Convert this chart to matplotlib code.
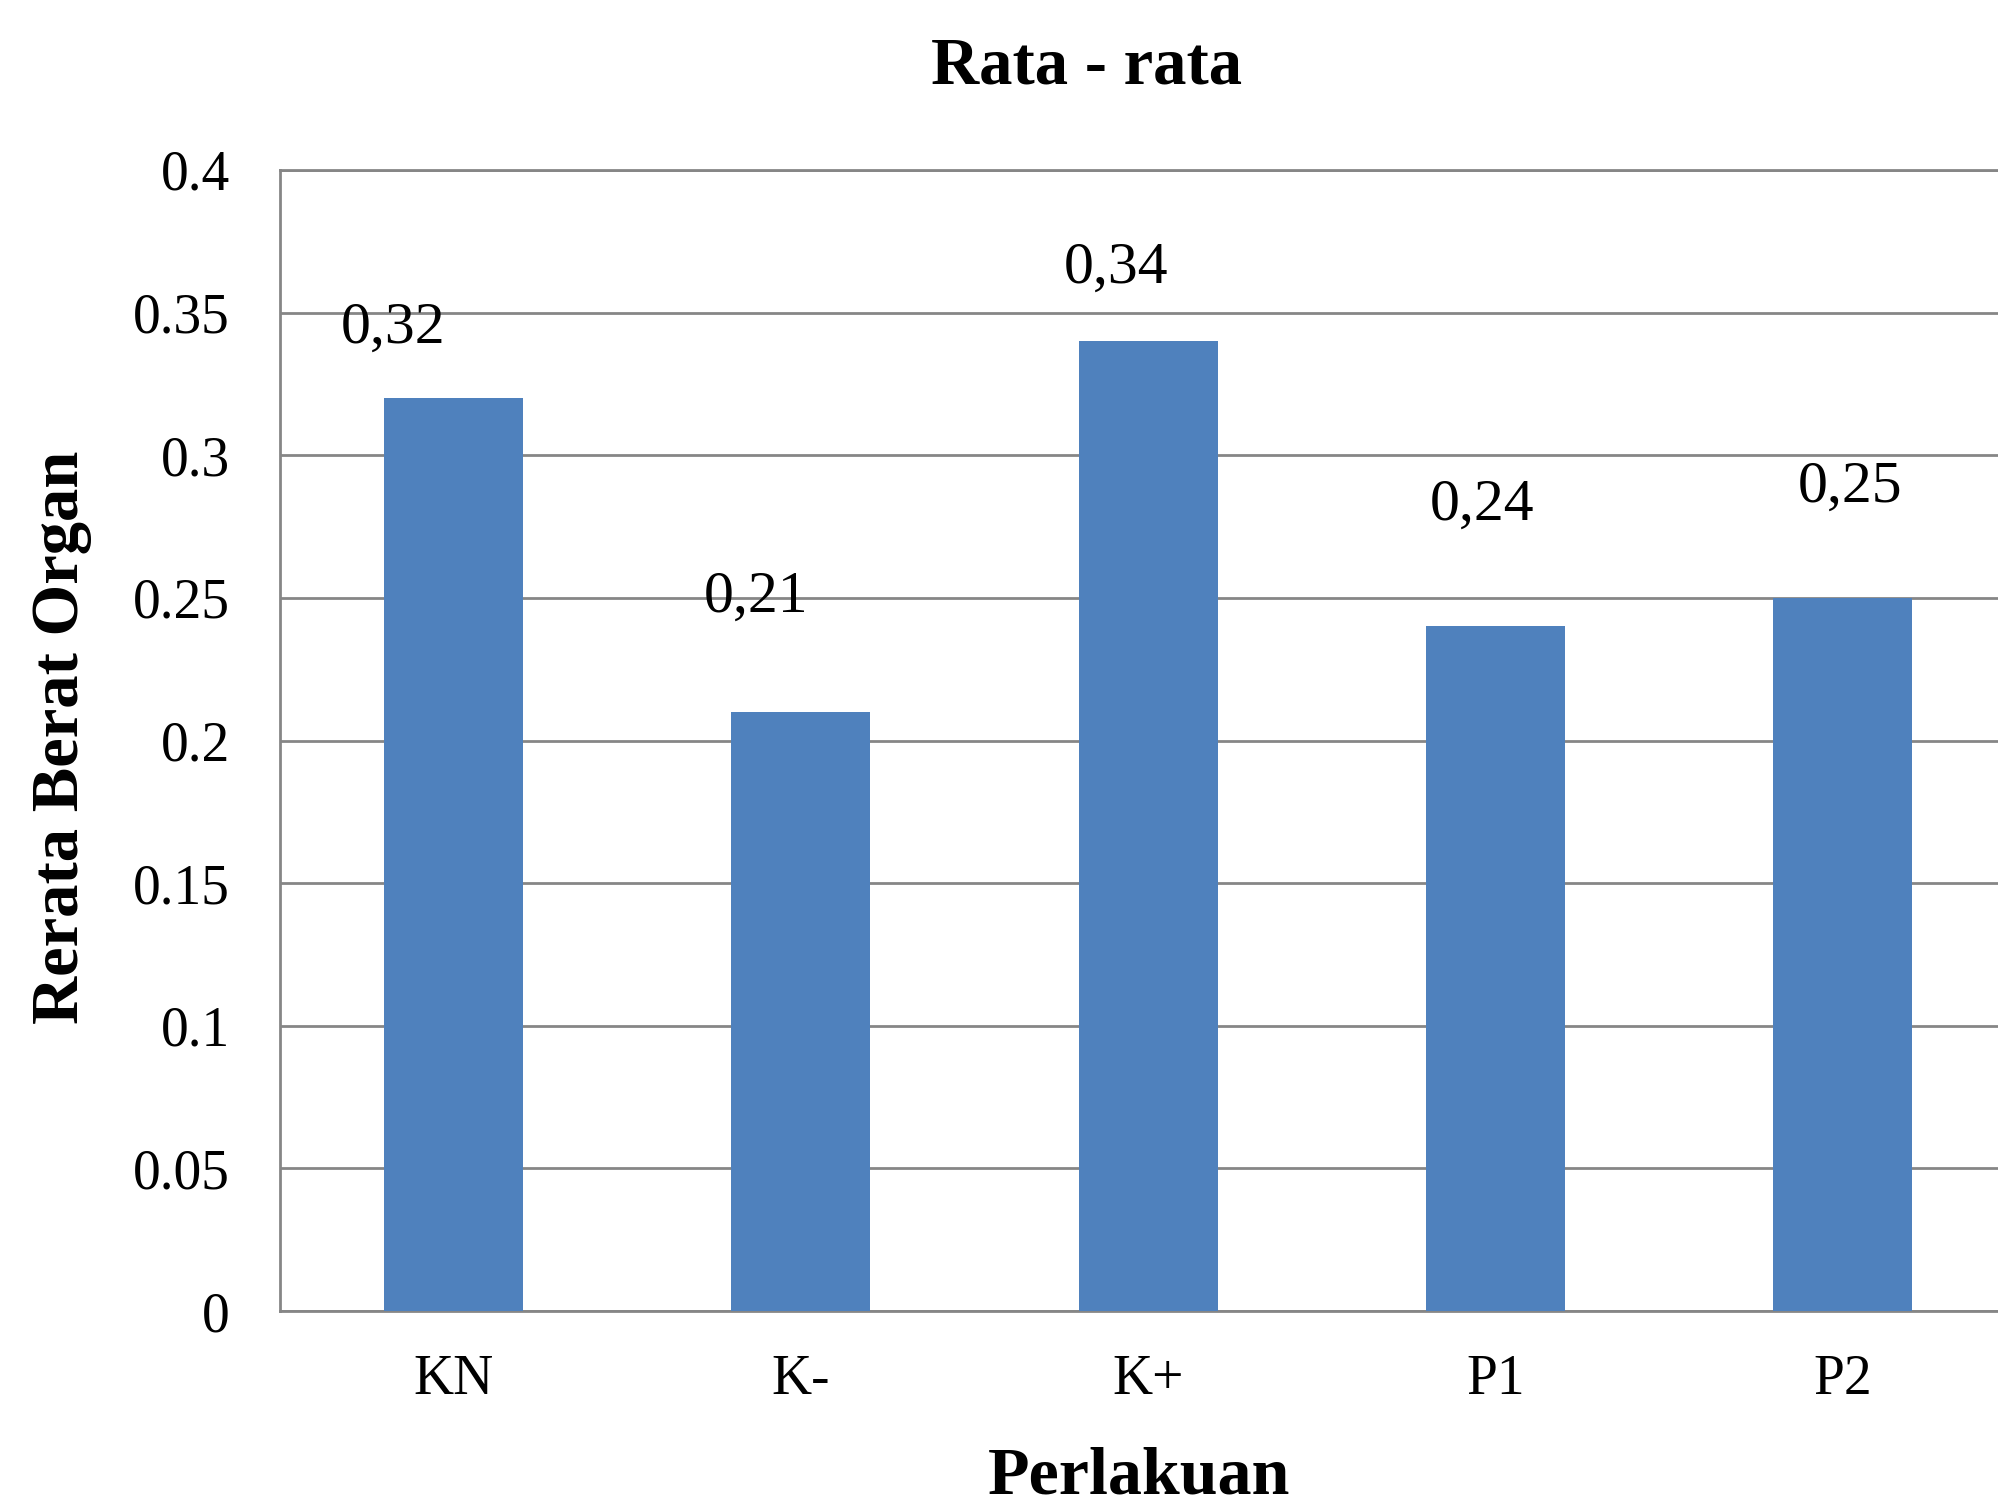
import matplotlib
matplotlib.use("Agg")
import matplotlib.pyplot as plt

# Data
categories = ["KN", "K-", "K+", "P1", "P2"]
values = [0.32, 0.21, 0.34, 0.24, 0.25]
value_labels = ["0,32", "0,21", "0,34", "0,24", "0,25"]
y_ticks = [0, 0.05, 0.1, 0.15, 0.2, 0.25, 0.3, 0.35, 0.4]
y_tick_labels = ["0", "0.05", "0.1", "0.15", "0.2", "0.25", "0.3", "0.35", "0.4"]

# Label offsets (pixels), as placed in the original
label_dx = [-61, -45, -32, -13, 7]
label_dy = [55, 100, 58, 107, 96]

plt.rcParams['font.family'] = ['Liberation Serif', 'DejaVu Serif']

W, H = 1999, 1507
fig = plt.figure(figsize=(W / 100, H / 100), dpi=100)
ax = fig.add_axes([280 / W, 196 / H, (W - 280) / W, 1141 / H])

grid_color = "#868686"
bar_color = "#4F81BD"

x = list(range(len(categories)))
ax.bar(x, values, width=0.4, color=bar_color, zorder=3)

ax.set_xlim(-0.5, 4.45)
ax.set_ylim(0, 0.4)
ax.set_yticks(y_ticks)
ax.set_yticklabels(y_tick_labels)
ax.set_xticks(x)
ax.set_xticklabels(categories)

ax.yaxis.grid(True, color=grid_color, linewidth=2.0, zorder=0)
ax.set_axisbelow(True)
ax.spines["right"].set_visible(False)
for side in ["left", "bottom", "top"]:
    ax.spines[side].set_color(grid_color)
    ax.spines[side].set_linewidth(2.0)

ax.tick_params(axis="y", length=0, pad=36, labelsize=40)
ax.tick_params(axis="x", length=0, pad=31, labelsize=40)

for i, (v, lab) in enumerate(zip(values, value_labels)):
    ax.annotate(lab, xy=(x[i], v), xytext=(label_dx[i], label_dy[i]),
                textcoords="offset pixels", ha="center", va="baseline",
                fontsize=43, color="black", zorder=4)

fig.text(1087 / W, 1 - 83 / H, "Rata - rata", ha="center", va="baseline",
         fontsize=48, fontweight="bold")
fig.text(1139 / W, 1 - 1494 / H, "Perlakuan", ha="center", va="baseline",
         fontsize=49, fontweight="bold")
fig.text(62 / W, 1 - 737 / H, "Rerata Berat Organ", ha="center", va="center",
         rotation=90, fontsize=48, fontweight="bold")

fig.savefig("out.png", dpi=100, facecolor="white")
